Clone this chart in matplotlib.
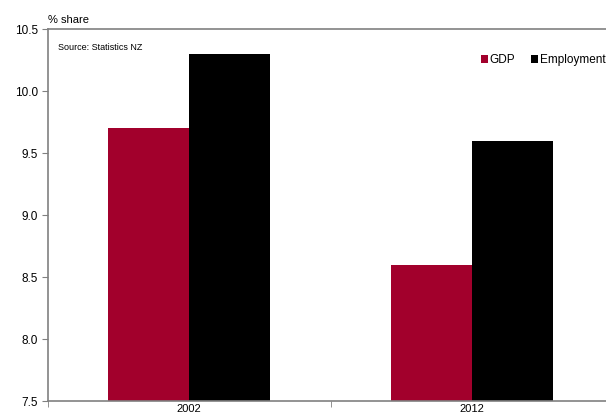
import matplotlib.pyplot as plt
import numpy as np

plt.rcParams['font.family'] = ['Liberation Sans', 'DejaVu Sans']

years = ['2002', '2012']
gdp = [9.7, 8.6]
employment = [10.3, 9.6]
series_names = ['GDP', 'Employment']
yticks = [7.5, 8.0, 8.5, 9.0, 9.5, 10.0, 10.5]

red = '#A2002C'
grey = '#808080'

fig = plt.figure(figsize=(6.06, 4.18), dpi=100)
ax = fig.add_axes([48 / 606, 1 - 401 / 418, 565 / 606, 372 / 418])

x = np.arange(len(years))
w = 0.287
ax.bar(x - w / 2, gdp, w, color=red, label=series_names[0])
ax.bar(x + w / 2, employment, w, color='black', label=series_names[1])

ax.set_ylim(7.5, 10.5)
ax.set_xlim(-0.5, len(years) - 0.5)
ax.set_yticks(yticks)
ax.set_yticklabels(['%.1f' % t for t in yticks], fontsize=8.5)
ax.set_xticks(x)
ax.set_xticklabels(years, fontsize=8)
ax.tick_params(axis='x', length=0, pad=2.5)
ax.set_xticks(np.arange(len(years) + 1) - 0.5, minor=True)
ax.tick_params(axis='x', which='minor', length=4, color=grey, direction='out')
ax.tick_params(axis='y', length=4, color=grey, direction='out', pad=3)

for s in ['left', 'bottom', 'top']:
    ax.spines[s].set_color(grey)
    ax.spines[s].set_linewidth(1.2)
ax.spines['right'].set_visible(False)

fig.text(48 / 606, 1 - 20 / 418, '% share', fontsize=8, va='center', ha='left')
ax.text(0.018, 0.95, 'Source: Statistics NZ', transform=ax.transAxes,
        fontsize=6.5, va='center', ha='left')

leg = ax.legend(loc='upper left', bbox_to_anchor=(0.758, 0.945), ncol=2, frameon=False,
                fontsize=8.5, handlelength=0.6, handleheight=0.6, handletextpad=0.15,
                columnspacing=1.3, borderaxespad=0)

fig.savefig('out.png', dpi=100)
